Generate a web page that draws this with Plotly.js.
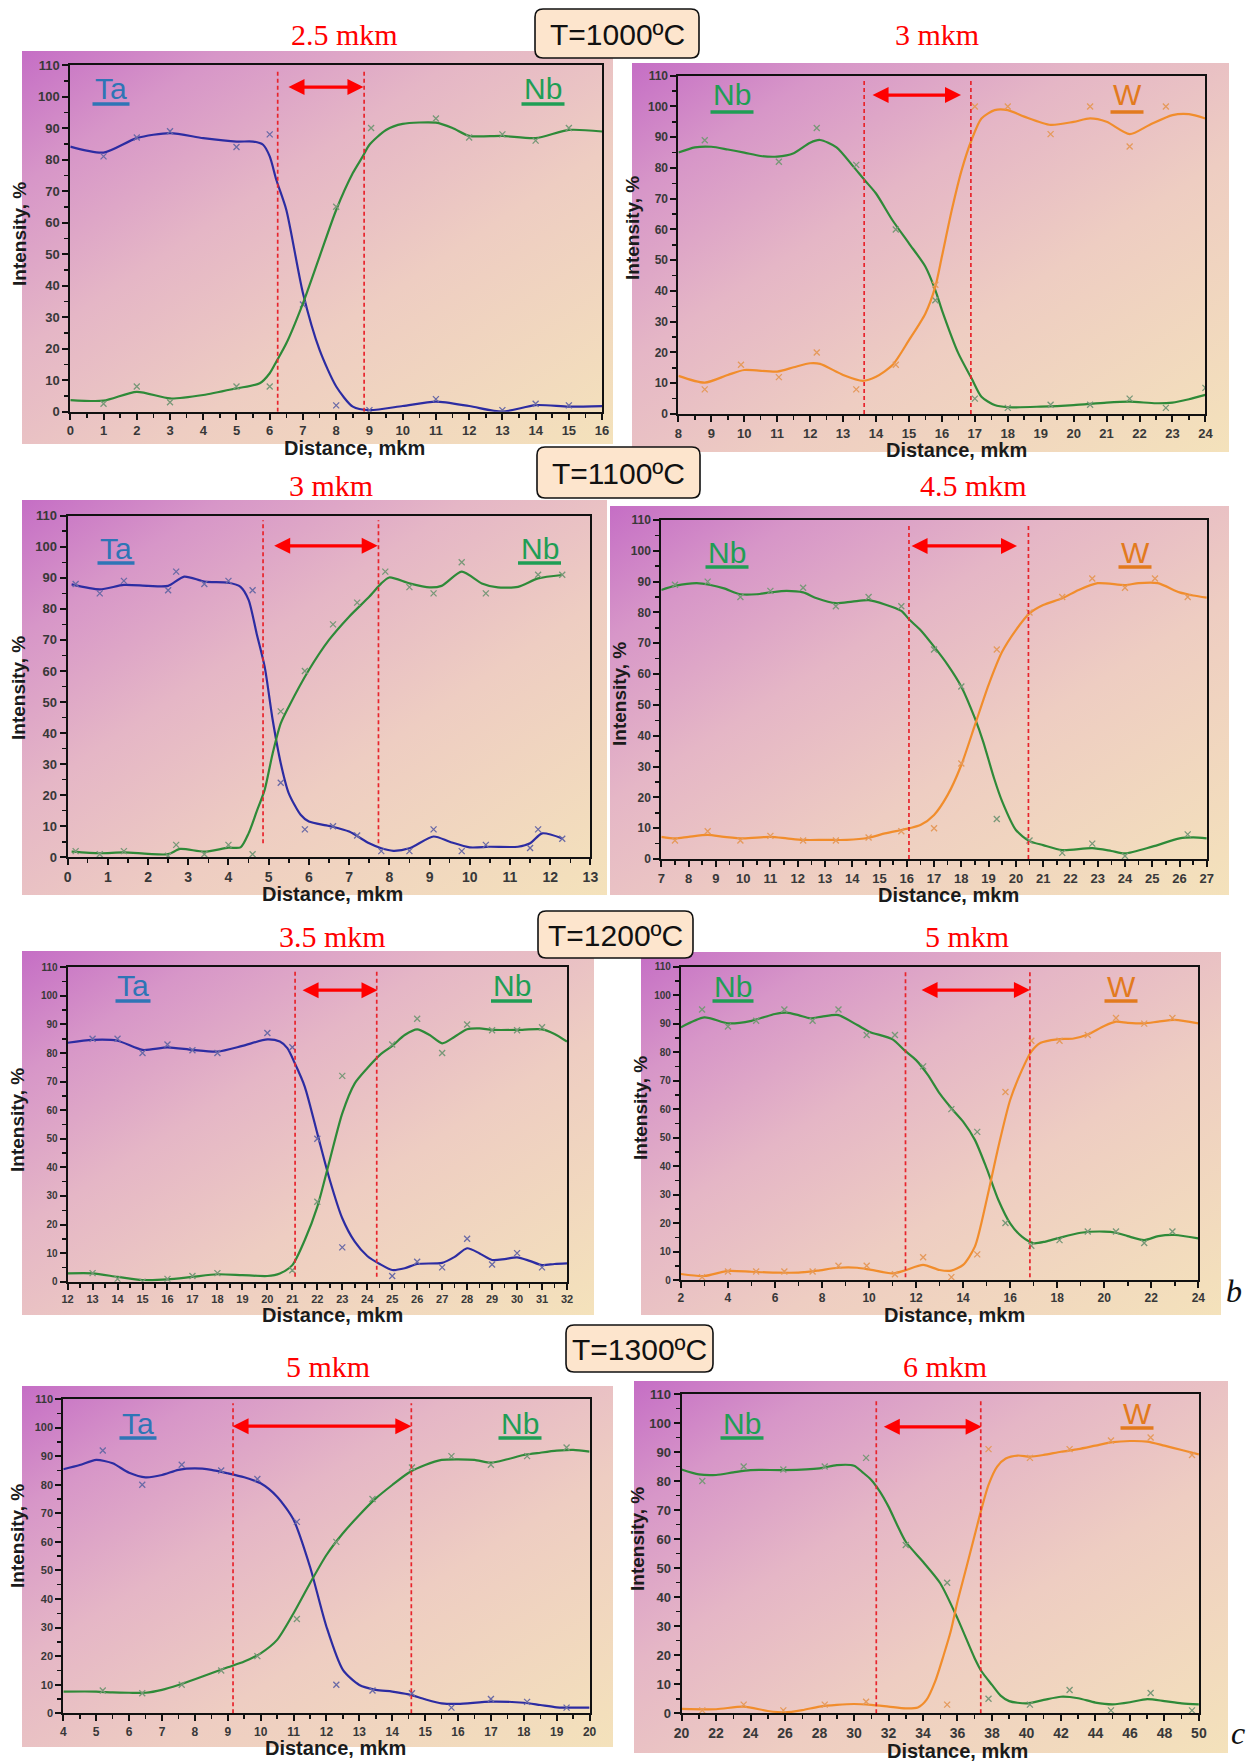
<!DOCTYPE html>
<html>
<head>
<meta charset="utf-8">
<script src="https://cdn.plot.ly/plotly-3.0.1.min.js"></script>
<style>
html,body{margin:0;padding:0;background:#ffffff;}
#chart{width:1253px;height:1763px;}
</style>
</head>
<body>
<div id="chart"></div>
<script>
// ---------------- DATA ----------------
// Panel 1: T=1000 ºC, Ta / Nb
const p1TaLineX = [0, 1, 2, 3, 4, 5, 5.5, 5.8, 6, 6.2, 6.5, 7, 7.5, 8, 8.5, 9, 10, 11, 12, 13, 14, 15, 16];
const p1TaLineY = [84.1, 82.2, 86.8, 88.4, 86.8, 85.7, 85.7, 84.7, 81, 73.5, 64, 37.6, 19.6, 8, 1.6, 0.5, 1.8, 3.2, 1.8, 0, 2.1, 1.6, 1.8];
const p1TaPtsX = [1, 2, 3, 5, 6, 7, 8, 9, 11, 13, 14, 15];
const p1TaPtsY = [81, 87, 89, 84, 88, 34, 2, 0.5, 4, 0.5, 2.5, 2];
const p1NbLineX = [0, 1, 2, 3, 4, 5, 5.7, 6, 6.2, 6.5, 7, 7.5, 8, 8.5, 8.8, 9, 9.5, 10, 11, 11.5, 12, 13, 14, 15, 16];
const p1NbLineY = [3.7, 3.5, 6.3, 4.2, 5.3, 7.4, 9, 12.2, 15.9, 21.7, 34.4, 49.2, 64, 75.7, 81, 84.7, 89.4, 91.3, 91.7, 90, 87.5, 87.5, 86.8, 89.4, 88.9];
const p1NbPtsX = [1, 2, 3, 5, 6, 8, 9.05, 11, 12, 13, 14, 15];
const p1NbPtsY = [2.5, 8, 3, 8, 8, 65, 90, 93, 87, 88, 86, 90];

// Panel 2: T=1000 ºC, Nb / W
const p2NbLineX = [8, 8.5, 9, 9.5, 10, 10.5, 11, 11.5, 12, 12.3, 12.8, 13.3, 13.65, 14, 14.5, 15, 15.5, 15.8, 16, 16.5, 16.9, 17.2, 17.6, 18, 19, 20, 21, 21.7, 22.5, 23, 23.5, 24];
const p2NbLineY = [85, 86.7, 86.9, 86, 85, 83.9, 83.7, 84.8, 88.2, 89.1, 86.7, 80.6, 76.1, 71.7, 63, 55.5, 47.9, 40.3, 33.8, 19.7, 11.6, 5.6, 2.9, 2.2, 2.4, 2.9, 3.7, 4, 3.5, 3.7, 4.8, 6.2];
const p2NbPtsX = [8.8, 11.05, 12.2, 13.4, 14.6, 15.8, 17, 18, 19.3, 20.5, 21.7, 22.8, 24];
const p2NbPtsY = [89, 82, 93, 81, 60, 37, 5, 2, 3, 3, 5, 2, 8.5];
const p2WLineX = [8, 8.8, 9.5, 10, 11, 11.5, 12, 12.3, 13, 13.6, 14, 14.5, 15, 15.5, 15.8, 16, 16.3, 16.6, 16.9, 17.2, 17.6, 18, 18.5, 19.3, 20, 20.5, 21, 21.7, 22.3, 23, 23.5, 24];
const p2WLineY = [12.4, 10.2, 12.7, 14.3, 13.8, 15.2, 16.5, 16.3, 12.7, 10.8, 12.1, 15.9, 24, 32.7, 41.4, 51.2, 66.3, 79.3, 89.1, 96.1, 98.8, 98.8, 96.7, 94, 95, 96.1, 95, 91, 94, 97.2, 97.5, 96.1];
const p2WPtsX = [8.8, 9.9, 11.05, 12.2, 13.4, 14.6, 15.8, 17, 18, 19.3, 20.5, 21.7, 22.8];
const p2WPtsY = [8, 16, 12, 20, 8, 16, 42, 100, 100, 91, 100, 87, 100];

// Panel 3: T=1100 ºC, Ta / Nb
const p3TaLineX = [0.1, 0.8, 1.4, 2, 2.5, 2.9, 3.4, 4, 4.3, 4.5, 4.7, 4.9, 5.1, 5.3, 5.5, 5.8, 6, 6.5, 7, 7.5, 7.8, 8.1, 8.5, 9.1, 9.5, 10, 10.5, 11.2, 11.5, 11.8, 12.3];
const p3TaLineY = [87.9, 86.3, 87.7, 87.4, 87.4, 90.4, 88.8, 88.4, 87.1, 82.9, 72.1, 61.4, 44.2, 30.3, 20.6, 13.6, 11.5, 10.1, 8.3, 4.5, 2.9, 2.1, 2.9, 6.7, 5, 3.2, 3.4, 3.4, 4.5, 7.7, 6.1];
const p3TaPtsX = [0.2, 0.8, 1.4, 2.5, 2.7, 3.4, 4, 4.6, 5.3, 5.9, 6.6, 7.2, 7.8, 8.5, 9.1, 9.8, 10.4, 11.5, 11.7, 12.3];
const p3TaPtsY = [88, 85, 89, 86, 92, 88, 89, 86, 24, 9, 10, 7, 2, 2, 9, 2, 4, 3, 9, 6];
const p3NbLineX = [0.1, 0.8, 1.4, 2, 2.5, 2.8, 3.4, 4, 4.3, 4.5, 4.7, 4.9, 5.1, 5.3, 5.5, 6, 6.5, 7, 7.5, 7.8, 8, 8.5, 9, 9.3, 9.8, 10.3, 10.7, 11.2, 11.7, 12.3];
const p3NbLineY = [1.8, 1.3, 1.6, 1.1, 1, 2.7, 1.8, 3.1, 3.2, 7.7, 14.7, 21.7, 33.5, 43.1, 48.5, 60.3, 70, 77.5, 83.9, 88.2, 90.1, 88.2, 86.9, 87.4, 92, 88.2, 86.9, 87.1, 89.8, 90.9];
const p3NbPtsX = [0.2, 0.8, 1.4, 2.5, 2.7, 3.4, 4, 4.6, 5.3, 5.9, 6.6, 7.2, 7.9, 8.5, 9.1, 9.8, 10.4, 11.7, 12.3];
const p3NbPtsY = [2, 1, 2, 0.5, 4, 1, 4, 1, 47, 60, 75, 82, 92, 87, 85, 95, 85, 91, 91];

// Panel 4: T=1100 ºC, Nb / W
const p4NbLineX = [7, 7.5, 8.3, 8.8, 9.3, 9.9, 10.5, 11, 11.6, 12.2, 12.7, 13.4, 14, 14.6, 15.2, 15.8, 16.1, 16.5, 17, 17.5, 18, 18.5, 18.8, 19.2, 19.5, 20, 20.5, 21, 21.7, 22.8, 23.5, 24, 25, 26, 26.5, 27];
const p4NbLineY = [87.3, 88.6, 89.5, 88.9, 87.8, 85.9, 85.9, 86.5, 87, 86.5, 84.6, 83, 83.5, 84, 82.6, 80.5, 77.6, 74.3, 68.9, 63, 55.9, 45.6, 38.1, 26.2, 18.6, 9.4, 5.8, 4.5, 2.9, 3.5, 2.6, 1.8, 4, 6.7, 7, 6.7];
const p4NbPtsX = [7.5, 8.7, 9.9, 11, 12.2, 13.4, 14.6, 15.8, 17, 18, 19.3, 20.5, 21.7, 22.8, 24, 26.3];
const p4NbPtsY = [89, 90, 85, 87, 88, 82, 85, 82, 68, 56, 13, 6, 2, 5, 1, 8];
const p4WLineX = [7, 7.5, 8, 8.7, 9.3, 10, 11, 11.6, 12.2, 13, 13.8, 14.6, 15.2, 15.8, 16.1, 16.5, 17, 17.5, 18, 18.5, 19, 19.5, 20, 20.5, 21, 21.7, 22.3, 23, 24, 24.5, 25.2, 26, 26.5, 27];
const p4WLineY = [7.2, 6.7, 7.2, 7.8, 7.2, 6.7, 7.2, 6.7, 6.2, 6.2, 6.2, 6.9, 8.3, 9.4, 10, 11, 14.3, 20.8, 30.5, 43.5, 56.5, 67.3, 74.3, 79.7, 82.4, 84.6, 87.3, 89.5, 88.9, 89.5, 89.5, 86.5, 85.5, 84.8];
const p4WPtsX = [7.5, 8.7, 9.9, 11, 12.2, 13.4, 14.6, 15.8, 17, 18, 19.3, 20.5, 21.7, 22.8, 24, 25.1, 26.3];
const p4WPtsY = [6, 9, 6, 7.5, 6, 6, 7, 9, 10, 31, 68, 80, 85, 91, 88, 91, 85];

// Panel 5: T=1200 ºC, Ta / Nb
const p5TaLineX = [12, 13, 14, 15, 16, 17, 18, 19, 20, 20.5, 20.8, 21.1, 21.5, 22, 22.5, 23, 23.5, 24, 24.5, 25, 25.5, 26, 27, 27.5, 28, 28.5, 29, 29.5, 30, 30.5, 31, 31.5, 32];
const p5TaLineY = [83.6, 84.6, 84.3, 81.1, 82, 81.1, 80.5, 82.5, 84.8, 84, 81.7, 76.4, 68.2, 51.9, 35.6, 22.2, 14, 9, 6.2, 4.1, 4.7, 6.2, 6.6, 8.7, 11.7, 9.9, 7.6, 7.9, 8.5, 7.3, 5.8, 6.2, 6.4];
const p5TaPtsX = [13, 14, 15, 16, 17, 18, 20, 21, 22, 23, 25, 26, 27, 28, 29, 30, 31];
const p5TaPtsY = [85, 85, 80, 83, 81, 80, 87, 82, 50, 12, 2, 7, 5, 15, 6, 10, 5];
const p5NbLineX = [12, 13, 14, 15, 16, 17, 18, 19, 20, 20.5, 21, 21.5, 22, 22.5, 23, 23.5, 24, 24.5, 25, 25.5, 26, 26.5, 27, 27.5, 28, 28.5, 29, 30, 31, 31.5, 32];
const p5NbLineY = [2.9, 2.9, 1.7, 0.6, 0.8, 1.7, 2.6, 2.3, 2, 2.9, 5.8, 14.6, 26.2, 42.6, 58.9, 69.4, 74.7, 79.3, 82.5, 86.3, 88.3, 86.3, 83.4, 85.7, 88.3, 88.6, 88.1, 88.1, 88.3, 86.7, 84];
const p5NbPtsX = [13, 14, 15, 16, 17, 18, 21, 22, 23, 25, 26, 27, 28, 29, 30, 31];
const p5NbPtsY = [3, 1, 0, 1, 2, 3, 4, 28, 72, 83, 92, 80, 90, 88, 88, 89];

// Panel 6: T=1200 ºC, Nb / W
const p6NbLineX = [2, 3, 4, 5, 6, 6.5, 7, 7.5, 8, 8.7, 9.5, 10, 11, 11.5, 12, 12.5, 13, 13.5, 14, 14.5, 15, 15.5, 16, 16.5, 17, 17.5, 18, 19, 20, 20.5, 21, 21.7, 22.3, 23, 24];
const p6NbLineY = [88.7, 92.2, 90.1, 91, 93.4, 93.9, 93, 91.9, 92.5, 93, 89.5, 87.2, 84.5, 80.7, 77.2, 72, 65.5, 60.3, 55.6, 49.2, 39.2, 28.1, 19.9, 15.2, 12.9, 13.5, 14.6, 16.6, 17, 16.6, 15.4, 14, 15.4, 15.8, 14.6];
const p6NbPtsX = [2.9, 4, 5.2, 6.4, 7.6, 8.7, 9.9, 11.1, 12.3, 13.5, 14.6, 15.8, 16.9, 18.1, 19.3, 20.5, 21.7, 22.9];
const p6NbPtsY = [95, 89, 91, 95, 91, 95, 86, 86, 75, 60, 52, 20, 12, 14, 17, 17, 13, 17];
const p6WLineX = [2, 3, 4, 5, 6, 7, 7.8, 8.7, 9.5, 10, 11, 11.5, 12.3, 13, 13.5, 14, 14.5, 15, 15.5, 16, 16.5, 16.9, 17.3, 18, 18.7, 19.3, 20, 20.5, 21, 21.7, 22.3, 23, 24];
const p6WLineY = [2.1, 1.4, 3.2, 2.9, 2.6, 2.6, 3.3, 4.3, 4.3, 3.7, 2.3, 3.3, 5.3, 3.5, 3.3, 5.3, 11.7, 28.1, 46.8, 63.2, 73.7, 80.2, 83.3, 84.5, 84.8, 86.2, 89.2, 90.7, 90.3, 90.1, 90.7, 91.3, 90.1];
const p6WPtsX = [2.9, 4, 5.2, 6.4, 7.6, 8.7, 9.9, 11.1, 12.3, 13.5, 14.6, 15.8, 16.9, 18.1, 19.3, 20.5, 21.7, 22.9];
const p6WPtsY = [1, 3, 3, 3, 3, 5, 5, 2, 8, 1, 9, 66, 84, 84, 86, 92, 90, 92];

// Panel 7: T=1300 ºC, Ta / Nb
const p7TaLineX = [4, 4.5, 5, 5.5, 6, 6.5, 7, 7.5, 8, 8.5, 9, 9.5, 10, 10.5, 11, 11.5, 12, 12.5, 13, 13.5, 14, 14.5, 15, 15.5, 16, 17, 18, 18.5, 19, 20];
const p7TaLineY = [85.4, 86.9, 88.7, 87.5, 84.2, 82.6, 83.4, 85.2, 85.7, 85.2, 84, 82.6, 80.5, 75.8, 67.7, 51.3, 30.3, 15.2, 9.9, 8.2, 7.6, 6.6, 4.9, 3.5, 3.3, 4.1, 3.7, 2.9, 2.1, 2];
const p7TaPtsX = [5.2, 6.4, 7.6, 8.8, 9.9, 11.1, 12.3, 13.4, 14.6, 15.8, 17, 18.1, 19.3];
const p7TaPtsY = [92, 80, 87, 85, 82, 67, 10, 8, 7, 2, 5, 4, 2];
const p7NbLineX = [4, 5, 5.5, 6, 6.5, 7, 7.5, 8, 8.5, 9, 9.5, 10, 10.5, 11, 11.5, 12, 12.5, 13, 13.5, 14, 14.5, 15, 15.5, 16, 16.5, 17, 17.5, 18, 18.5, 19, 19.5, 20];
const p7NbLineY = [7.6, 7.6, 7.3, 7.2, 7.2, 8.2, 9.9, 11.9, 14, 16.1, 18.1, 21, 25.7, 35, 45.5, 55.4, 63, 69.4, 75.2, 79.9, 84.2, 86.9, 88.7, 88.9, 88.7, 87.7, 88.9, 90.4, 91.2, 91.9, 92.2, 91.6];
const p7NbPtsX = [5.2, 6.4, 7.6, 8.8, 9.9, 11.1, 12.3, 13.4, 14.6, 15.8, 17, 18.1, 19.3];
const p7NbPtsY = [8, 7, 10, 15, 20, 33, 60, 75, 86, 90, 87, 90, 93];

// Panel 8: T=1300 ºC, Nb / W
const p8NbLineX = [20, 21, 22, 23, 24, 26, 28, 29, 30, 30.5, 31, 31.5, 32, 32.5, 33, 34, 35, 36, 37, 37.4, 38, 38.5, 39, 40, 41, 42, 43, 44, 45, 46, 47, 48, 49, 50];
const p8NbLineY = [84, 82.3, 82.1, 83, 83.8, 83.8, 84.4, 85.5, 85.3, 83, 80.4, 76.4, 71.2, 64.9, 59.1, 52.2, 44.8, 32.7, 18.9, 14.4, 9.8, 6.1, 4.2, 3.4, 4.6, 5.7, 5.2, 3.7, 3.1, 3.8, 4.9, 4.2, 3.4, 3.1];
const p8NbPtsX = [21.2, 23.6, 25.9, 28.3, 30.7, 33, 35.4, 37.8, 40.2, 42.5, 44.9, 47.2, 49.6];
const p8NbPtsY = [80, 85, 84, 85, 88, 58, 45, 5, 3, 8, 1, 7, 1];
const p8WLineX = [20, 22, 23.6, 25, 26, 27, 28, 29, 30, 31, 32, 33, 33.7, 34.2, 34.7, 35.2, 35.6, 36, 36.5, 37, 37.4, 37.8, 38.3, 38.8, 39.5, 40.2, 41, 42, 43, 44, 45, 46, 47, 48, 49, 50];
const p8WLineY = [1.5, 1.4, 2.3, 0.8, 0.3, 1.1, 2.3, 2.9, 3.2, 2.9, 2.3, 1.7, 2, 4.6, 10.9, 20.1, 28.1, 38.5, 49.9, 61.4, 70.6, 78.7, 85, 87.8, 88.8, 88.4, 89, 90.1, 91, 92.2, 93.4, 93.8, 93.6, 92.2, 90.7, 89.2];
const p8WPtsX = [21.2, 23.6, 25.9, 28.3, 30.7, 35.4, 37.8, 40.2, 42.5, 44.9, 47.2, 49.6];
const p8WPtsY = [1, 3, 1, 3, 4, 3, 91, 88, 91, 94, 95, 89];

// Transition zone boundaries (x) and width labels
const p1Bounds = [6.24, 8.84], p2Bounds = [13.64, 16.88];
const p3Bounds = [4.86, 7.73], p4Bounds = [16.08, 20.46];
const p5Bounds = [21.11, 24.38], p6Bounds = [11.55, 16.84];
const p7Bounds = [9.16, 14.58], p8Bounds = [31.29, 37.35];
const temperatures = ['T=1000ºC', 'T=1100ºC', 'T=1200ºC', 'T=1300ºC'];
const widthsTaNb = ['2.5 mkm', '3 mkm', '3.5 mkm', '5 mkm'];
const widthsNbW = ['3 mkm', '4.5 mkm', '5 mkm', '6 mkm'];

// ---------------- STYLE / LAYOUT ----------------
const W = 1253, H = 1763;
const px = v => v / W;
const py = v => 1 - v / H;

const TA_LINE = '#2c2ca2', NB_LINE = '#2e8a38', W_LINE = '#f18d2c';
const TA_MK = '#6a6aa6', NB_MK = '#789878', W_MK = '#e59a5c';
const TA_LBL = '#2e75b6', NB_LBL = '#1f9e55', W_LBL = '#e27a1e';
const DASH = '#e8242c', ARROW = '#ff0000';
const FONT = 'Arial, "Liberation Sans", sans-serif';
const SERIF = '"Times New Roman", "Liberation Serif", serif';
const XT_SIZE = 20, YT_SIZE = 19;

const sets = {
  Ta: {line: TA_LINE, mk: TA_MK, lbl: TA_LBL},
  Nb: {line: NB_LINE, mk: NB_MK, lbl: NB_LBL},
  W:  {line: W_LINE, mk: W_MK, lbl: W_LBL}
};

const panels = [
  {xr: [0, 16], dt: 1, mn: 0.5, dom: [70.3, 602.1, 65, 411.7], bg: [22, 51, 613, 444], xtf: 13, ytf: 13,
   series: [['Ta', p1TaLineX, p1TaLineY, p1TaPtsX, p1TaPtsY], ['Nb', p1NbLineX, p1NbLineY, p1NbPtsX, p1NbPtsY]],
   bounds: p1Bounds, dy0: 0, arrow: [6.52, 8.82, 103],
   labels: [['Ta', 111, 88, 104, 37], ['Nb', 543, 88, 104, 43]], xt: [354, 445], yt: [19, 234]},
  {xr: [8, 24], dt: 1, mn: 0.5, dom: [678.4, 1205.4, 75.7, 414], bg: [632, 63, 1229, 452], xtf: 13, ytf: 12,
   series: [['Nb', p2NbLineX, p2NbLineY, p2NbPtsX, p2NbPtsY], ['W', p2WLineX, p2WLineY, p2WPtsX, p2WPtsY]],
   bounds: p2Bounds, dy0: 0, arrow: [13.85, 16.58, 103.7],
   labels: [['Nb', 732, 95, 112, 43], ['W', 1127, 95, 112, 33]], xt: [956, 447], yt: [633, 228]},
  {xr: [0, 13], dt: 1, mn: 0.5, dom: [67.6, 590.4, 515.7, 857.3], bg: [22, 500, 607, 895], xtf: 14, ytf: 13,
   series: [['Ta', p3TaLineX, p3TaLineY, p3TaPtsX, p3TaPtsY], ['Nb', p3NbLineX, p3NbLineY, p3NbPtsX, p3NbPtsY]],
   bounds: p3Bounds, dy0: 4.5, arrow: [5.10, 7.71, 100.3],
   labels: [['Ta', 116, 549, 563, 37], ['Nb', 539.5, 549, 563, 43]], xt: [333, 893], yt: [18, 688]},
  {xr: [7, 27], dt: 1, mn: 0.5, dom: [661.3, 1206.8, 520, 859], bg: [610, 506, 1229, 895], xtf: 13, ytf: 12,
   series: [['Nb', p4NbLineX, p4NbLineY, p4NbPtsX, p4NbPtsY], ['W', p4WLineX, p4WLineY, p4WPtsX, p4WPtsY]],
   bounds: p4Bounds, dy0: 0, arrow: [16.12, 20.04, 101.6],
   labels: [['Nb', 727, 552, 567, 43], ['W', 1135, 552, 567, 33]], xt: [949, 893], yt: [619, 694]},
  {xr: [12, 32], dt: 1, mn: 0.5, dom: [67.6, 567, 967.3, 1281.7], bg: [22, 951, 594, 1315], xtf: 11, ytf: 10,
   series: [['Ta', p5TaLineX, p5TaLineY, p5TaPtsX, p5TaPtsY], ['Nb', p5NbLineX, p5NbLineY, p5NbPtsX, p5NbPtsY]],
   bounds: p5Bounds, dy0: 1.7, arrow: [21.35, 24.41, 102],
   labels: [['Ta', 133, 985, 1001, 35], ['Nb', 511.5, 985, 1001, 41]], xt: [333, 1313], yt: [17, 1120]},
  {xr: [2, 24], dt: 2, mn: 1, dom: [680.9, 1198.3, 966.7, 1280], bg: [641, 952, 1221, 1315], xtf: 12, ytf: 10,
   series: [['Nb', p6NbLineX, p6NbLineY, p6NbPtsX, p6NbPtsY], ['W', p6WLineX, p6WLineY, p6WPtsX, p6WPtsY]],
   bounds: p6Bounds, dy0: 1, arrow: [12.17, 16.84, 101.8],
   labels: [['Nb', 733, 986, 1001, 41], ['W', 1121, 986, 1001, 33]], xt: [954, 1313], yt: [640, 1108]},
  {xr: [4, 20], dt: 1, mn: 0.5, dom: [63.3, 589.6, 1399, 1713.3], bg: [22, 1386, 613, 1747], xtf: 12, ytf: 11,
   series: [['Ta', p7TaLineX, p7TaLineY, p7TaPtsX, p7TaPtsY], ['Nb', p7NbLineX, p7NbLineY, p7NbPtsX, p7NbPtsY]],
   bounds: p7Bounds, dy0: 0, arrow: [9.10, 14.58, 100.5],
   labels: [['Ta', 138, 1423, 1438, 37], ['Nb', 520, 1423, 1438, 43]], xt: [335, 1747], yt: [17, 1536]},
  {xr: [20, 50], dt: 2, mn: 1, dom: [681.6, 1198.9, 1394, 1713.3], bg: [634, 1381, 1228, 1753], xtf: 14, ytf: 13,
   series: [['Nb', p8NbLineX, p8NbLineY, p8NbPtsX, p8NbPtsY], ['W', p8WLineX, p8WLineY, p8WPtsX, p8WPtsY]],
   bounds: p8Bounds, dy0: 0, arrow: [31.64, 37.4, 98.7],
   labels: [['Nb', 742, 1423, 1438, 43], ['W', 1137, 1413, 1428, 33]], xt: [957, 1751], yt: [637, 1539]}
];

const headers = [
  {lx: 344, rx: 937, ty: 34, box: [535, 9, 699, 58]},
  {lx: 331, rx: 973, ty: 485, box: [537, 447, 700, 498]},
  {lx: 332, rx: 967, ty: 936, box: [538, 911, 693, 958]},
  {lx: 328, rx: 945, ty: 1366, box: [566, 1325, 713, 1372]}
];

// background gradient (decoration behind each panel)
const gradSvg = '<svg xmlns="http://www.w3.org/2000/svg" width="200" height="200" viewBox="0 0 200 200" preserveAspectRatio="none">' +
  '<defs><linearGradient id="g" x1="0" y1="0" x2="1" y2="1">' +
  '<stop offset="0" stop-color="#c56ec5"/>' +
  '<stop offset="0.17" stop-color="#d796c8"/>' +
  '<stop offset="0.38" stop-color="#e5b6c6"/>' +
  '<stop offset="0.62" stop-color="#eecdc2"/>' +
  '<stop offset="1" stop-color="#f4e2bb"/>' +
  '</linearGradient></defs><rect width="200" height="200" fill="url(#g)"/></svg>';
const gradSrc = 'data:image/svg+xml;charset=utf-8,' + encodeURIComponent(gradSvg);

const traces = [];
const layout = {
  width: W, height: H,
  margin: {l: 0, r: 0, t: 0, b: 0, pad: 0},
  paper_bgcolor: '#ffffff',
  plot_bgcolor: 'rgba(0,0,0,0)',
  showlegend: false,
  font: {family: FONT, color: '#222'},
  images: [], shapes: [], annotations: []
};

function roundRectPath(x0, y0, x1, y1, r) {
  const P = (x, y) => px(x).toFixed(5) + ',' + py(y).toFixed(5);
  return 'M' + P(x0 + r, y0) + ' L' + P(x1 - r, y0) + ' Q' + P(x1, y0) + ' ' + P(x1, y0 + r) +
    ' L' + P(x1, y1 - r) + ' Q' + P(x1, y1) + ' ' + P(x1 - r, y1) +
    ' L' + P(x0 + r, y1) + ' Q' + P(x0, y1) + ' ' + P(x0, y1 - r) +
    ' L' + P(x0, y0 + r) + ' Q' + P(x0, y0) + ' ' + P(x0 + r, y0) + ' Z';
}

panels.forEach((p, i) => {
  const k = i + 1;
  const xid = k === 1 ? 'x' : 'x' + k;
  const yid = k === 1 ? 'y' : 'y' + k;
  const xkey = k === 1 ? 'xaxis' : 'xaxis' + k;
  const ykey = k === 1 ? 'yaxis' : 'yaxis' + k;

  // background
  layout.images.push({
    source: gradSrc, xref: 'paper', yref: 'paper',
    x: px(p.bg[0]), y: py(p.bg[1]),
    sizex: px(p.bg[2]) - px(p.bg[0]), sizey: py(p.bg[1]) - py(p.bg[3]),
    xanchor: 'left', yanchor: 'top', sizing: 'stretch', layer: 'below'
  });

  const tickfont = (s) => ({family: FONT, size: s, color: '#383838', weight: 'bold'});
  layout[xkey] = {
    domain: [px(p.dom[0]), px(p.dom[1])], range: p.xr, anchor: yid,
    tick0: p.xr[0], dtick: p.dt, ticks: 'outside', ticklen: 6, tickwidth: 2, tickcolor: '#111',
    ticklabelstandoff: 0,
    showline: true, linewidth: 2, linecolor: '#111', mirror: true,
    showgrid: false, zeroline: false, fixedrange: true,
    tickfont: tickfont(p.xtf),
    minor: {dtick: p.mn, ticks: 'outside', ticklen: 4, tickwidth: 1.5, tickcolor: '#111', showgrid: false}
  };
  layout[ykey] = {
    domain: [py(p.dom[3]), py(p.dom[2])], range: [0, 110], anchor: xid,
    tick0: 0, dtick: 10, ticks: 'outside', ticklen: 6, tickwidth: 2, tickcolor: '#111',
    showline: true, linewidth: 2, linecolor: '#111', mirror: true,
    showgrid: false, zeroline: false, fixedrange: true,
    tickfont: tickfont(p.ytf),
    minor: {dtick: 5, ticks: 'outside', ticklen: 4, tickwidth: 1.5, tickcolor: '#111', showgrid: false}
  };

  // series
  p.series.forEach(s => {
    const st = sets[s[0]];
    traces.push({
      type: 'scatter', mode: 'lines', x: s[1], y: s[2], xaxis: xid, yaxis: yid,
      line: {color: st.line, width: 2.2, shape: 'spline', smoothing: 0.7},
      hoverinfo: 'skip', name: s[0]
    });
    traces.push({
      type: 'scatter', mode: 'markers', x: s[3], y: s[4], xaxis: xid, yaxis: yid,
      marker: {symbol: 'x-thin', size: 6, color: st.mk, line: {color: st.mk, width: 1.3}},
      hoverinfo: 'skip', name: s[0] + ' data'
    });
  });

  // dashed boundaries
  p.bounds.forEach(b => {
    layout.shapes.push({
      type: 'line', xref: xid, yref: yid, x0: b, x1: b, y0: p.dy0, y1: 108.5,
      line: {color: DASH, width: 1.7, dash: '4px,3px'}, layer: 'above'
    });
  });

  // double arrow
  layout.annotations.push({
    xref: xid, yref: yid, axref: xid, ayref: yid,
    x: p.arrow[1], y: p.arrow[2], ax: p.arrow[0], ay: p.arrow[2],
    text: '', showarrow: true, arrowhead: 2, startarrowhead: 2, arrowside: 'end+start',
    arrowsize: 1, startarrowsize: 1, arrowwidth: 3.2, arrowcolor: ARROW, standoff: 0, startstandoff: 0
  });

  // element labels with underline
  p.labels.forEach(l => {
    const st = sets[l[0]];
    layout.annotations.push({
      xref: 'paper', yref: 'paper', x: px(l[1]), y: py(l[2]),
      xanchor: 'center', yanchor: 'middle', showarrow: false,
      text: l[0], font: {family: FONT, size: 30, color: st.lbl}
    });
    layout.shapes.push({
      type: 'line', xref: 'paper', yref: 'paper',
      x0: px(l[1] - l[4] / 2), x1: px(l[1] + l[4] / 2), y0: py(l[3]), y1: py(l[3]),
      line: {color: st.lbl, width: 3.5}
    });
  });

  // axis titles: keep the x title just below the tick labels
  const minTitleY = p.dom[3] + 6 + 1.15 * p.xtf + 0.55 * XT_SIZE + 4;
  const xTitleY = Math.min(H - 0.55 * XT_SIZE, Math.max(p.xt[1], minTitleY));
  layout.annotations.push({
    xref: 'paper', yref: 'paper', x: px(p.xt[0]), y: py(xTitleY),
    xanchor: 'center', yanchor: 'middle', showarrow: false,
    text: '<b>Distance, mkm</b>', font: {family: FONT, size: XT_SIZE, color: '#1b1b1b'}
  });
  layout.annotations.push({
    xref: 'paper', yref: 'paper', x: px(p.yt[0]), y: py(p.yt[1]),
    xanchor: 'center', yanchor: 'middle', showarrow: false, textangle: -90,
    text: '<b>Intensity, %</b>', font: {family: FONT, size: YT_SIZE, color: '#1b1b1b'}
  });
});

// headers: widths and temperature boxes
headers.forEach((h, i) => {
  layout.annotations.push({
    xref: 'paper', yref: 'paper', x: px(h.lx), y: py(h.ty), xanchor: 'center', yanchor: 'middle',
    showarrow: false, text: widthsTaNb[i], font: {family: SERIF, size: 30, color: '#ff0000'}
  });
  layout.annotations.push({
    xref: 'paper', yref: 'paper', x: px(h.rx), y: py(h.ty), xanchor: 'center', yanchor: 'middle',
    showarrow: false, text: widthsNbW[i], font: {family: SERIF, size: 30, color: '#ff0000'}
  });
  const b = h.box;
  layout.shapes.push({
    type: 'path', xref: 'paper', yref: 'paper', path: roundRectPath(b[0], b[1], b[2], b[3], 8),
    fillcolor: '#fde5cd', line: {color: '#111', width: 1.6}, layer: 'above'
  });
  layout.annotations.push({
    xref: 'paper', yref: 'paper', x: px((b[0] + b[2]) / 2), y: py((b[1] + b[3]) / 2 + 1),
    xanchor: 'center', yanchor: 'middle', showarrow: false,
    text: temperatures[i], font: {family: FONT, size: 30, color: '#111'}
  });
});

// figure part letters
layout.annotations.push({xref: 'paper', yref: 'paper', x: px(1234), y: py(1291), xanchor: 'center', yanchor: 'middle',
  showarrow: false, text: '<i>b</i>', font: {family: SERIF, size: 32, color: '#111'}});
layout.annotations.push({xref: 'paper', yref: 'paper', x: px(1238), y: py(1733), xanchor: 'center', yanchor: 'middle',
  showarrow: false, text: '<i>c</i>', font: {family: SERIF, size: 32, color: '#111'}});

Plotly.newPlot('chart', traces, layout, {staticPlot: true, displayModeBar: false});
</script>
</body>
</html>
